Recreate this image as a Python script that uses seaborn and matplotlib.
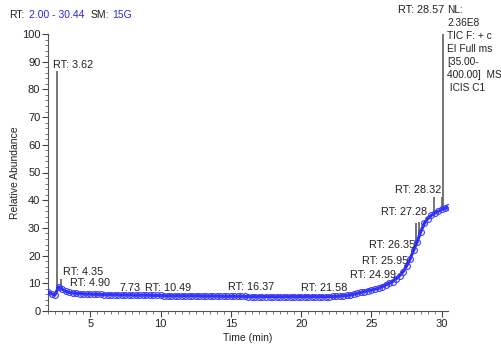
import numpy as np
import pandas as pd
import matplotlib
matplotlib.use("Agg")
import matplotlib.pyplot as plt
import seaborn as sns
from matplotlib.ticker import MultipleLocator

# ---- data ----
times = [2.00, 2.25, 2.50, 2.75, 3.00, 3.25, 3.50, 3.75, 4.00, 4.25, 4.50, 4.75,
         5.00, 5.25, 5.50, 5.75, 6.00, 6.25, 6.50, 6.75, 7.00, 7.25, 7.50, 7.75,
         8.00, 8.25, 8.50, 8.75, 9.00, 9.25, 9.50, 9.75, 10.00, 10.25, 10.50, 10.75,
         11.00, 11.25, 11.50, 11.75, 12.00, 12.25, 12.50, 12.75, 13.00, 13.25, 13.50,
         13.75, 14.00, 14.25, 14.50, 14.75, 15.00, 15.25, 15.50, 15.75, 16.00, 16.25,
         16.50, 16.75, 17.00, 17.25, 17.50, 17.75, 18.00, 18.25, 18.50, 18.75, 19.00,
         19.25, 19.50, 19.75, 20.00, 20.25, 20.50, 20.75, 21.00, 21.25, 21.50, 21.75,
         22.00, 22.25, 22.50, 22.75, 23.00, 23.25, 23.50, 23.75, 24.00, 24.25, 24.50,
         24.75, 25.00, 25.25, 25.50, 25.75, 26.00, 26.25, 26.50, 26.75, 27.00, 27.25,
         27.50, 27.75, 28.00, 28.25, 28.50, 28.75, 29.00, 29.25, 29.50, 29.75, 30.00,
         30.25, 30.44]
abundance = [6.9, 6.2, 5.8, 8.7, 7.9, 7.1, 6.7, 6.5, 6.4, 6.3, 6.2, 6.1,
             6.1, 6.0, 6.0, 6.0, 5.9, 5.9, 5.9, 5.9, 5.8, 5.8, 5.8, 5.8,
             5.8, 5.7, 5.7, 5.7, 5.7, 5.7, 5.6, 5.6, 5.6, 5.5, 5.5, 5.5,
             5.5, 5.5, 5.5, 5.5, 5.5, 5.5, 5.5, 5.5, 5.4, 5.4, 5.4,
             5.4, 5.4, 5.3, 5.3, 5.3, 5.3, 5.3, 5.3, 5.3, 5.3, 5.2,
             5.2, 5.2, 5.2, 5.2, 5.2, 5.2, 5.2, 5.2, 5.2, 5.2, 5.2,
             5.2, 5.2, 5.2, 5.2, 5.2, 5.2, 5.2, 5.2, 5.2, 5.2, 5.2,
             5.2, 5.3, 5.3, 5.4, 5.5, 5.6, 5.8, 6.1, 6.4, 6.7, 7.0,
             7.3, 7.6, 7.9, 8.2, 8.8, 9.4, 10.0, 10.6, 11.6, 12.8, 14.2,
             16.3, 18.8, 22.0, 25.0, 28.6, 31.6, 33.3, 34.5, 35.3, 36.0, 36.7,
             37.2, 37.5]

# narrow peaks (apex time, base, apex)
peak_times = [2.66, 2.95, 28.20, 28.40, 29.45, 30.00, 30.10]
peak_base = [6.0, 8.5, 24.0, 27.0, 35.0, 36.7, 37.0]
peak_top = [86.5, 11.5, 31.8, 32.0, 41.0, 41.0, 100.0]

# peak annotations (label, time, abundance)
label_text = ["RT: 3.62", "RT: 4.35", "RT: 4.90", "7.73", "RT: 10.49", "RT: 16.37",
              "RT: 21.58", "RT: 24.99", "RT: 25.95", "RT: 26.35", "RT: 27.28",
              "RT: 28.32", "RT: 28.57"]
label_t = [2.38, 3.09, 3.58, 7.06, 8.90, 14.79, 19.96, 23.44, 24.36, 24.79, 25.70,
           26.70, 26.90]
label_v = [88.8, 14.1, 10.1, 8.3, 8.3, 8.7, 8.3, 13.0, 18.0, 23.8, 35.7, 43.7, 108.7]

info_lines = ["NL:", "2.36E8", "TIC F: + c", "EI Full ms", "[35.00-", "400.00]  MS", " ICIS C1"]

df = pd.DataFrame({"Time (min)": times, "Relative Abundance": abundance})

# ---- style ----
sns.set_style("ticks")
plt.rcParams["font.family"] = ["Liberation Sans", "DejaVu Sans"]

fig = plt.figure(figsize=(5.02, 3.49), dpi=100)
ax = fig.add_axes([48 / 502, 1 - 311 / 349, 400 / 502, 277 / 349])

blue = "#2b2bf0"
sns.lineplot(data=df, x="Time (min)", y="Relative Abundance", ax=ax,
             color=blue, lw=2.2, marker="o", markersize=4.2,
             markerfacecolor="none", markeredgecolor="#3a3aff", markeredgewidth=0.8,
             zorder=3)
ax.vlines(peak_times, peak_base, peak_top, colors="#6a6a6a", lw=1.3, zorder=2)

ax.set_xlim(2.0, 30.44)
ax.set_ylim(0, 100)
ax.xaxis.set_major_locator(MultipleLocator(5))
ax.xaxis.set_minor_locator(MultipleLocator(0.5))
ax.yaxis.set_major_locator(MultipleLocator(10))
ax.yaxis.set_minor_locator(MultipleLocator(2))
ax.tick_params(axis="both", which="major", length=4, width=0.8, color="#444444",
               labelsize=8, pad=1.5, labelcolor="#222222")
ax.tick_params(axis="both", which="minor", length=2, width=0.6, color="#666666")
for s in ["top", "right"]:
    ax.spines[s].set_visible(False)
for s in ["left", "bottom"]:
    ax.spines[s].set_color("#555555")
    ax.spines[s].set_linewidth(0.8)

ax.set_xlabel("Time (min)", fontsize=7.5, color="#222222", labelpad=3)
ax.set_ylabel("Relative Abundance", fontsize=7.5, color="#222222")
ax.yaxis.set_label_coords(-28 / 400, 0.5)

for txt, t, v in zip(label_text, label_t, label_v):
    ax.text(t, v, txt, fontsize=7.8, color="#222222", ha="left", va="center", clip_on=False)

for i, line in enumerate(info_lines):
    fig.text(447 / 502, 1 - (10 + 13 * i) / 349, line, fontsize=7.3, color="#222222",
             ha="left", va="center")

hdr_y = 1 - 15 / 349
fig.text(9 / 502, hdr_y, "RT:", fontsize=7.5, color="#222222", va="center")
fig.text(29 / 502, hdr_y, "2.00 - 30.44", fontsize=7.5, color="#2a2ad0", va="center")
fig.text(91 / 502, hdr_y, "SM:", fontsize=7.5, color="#222222", va="center")
fig.text(112 / 502, hdr_y, "15G", fontsize=7.5, color="#2a2ad0", va="center")

fig.savefig("out.png", dpi=100)
